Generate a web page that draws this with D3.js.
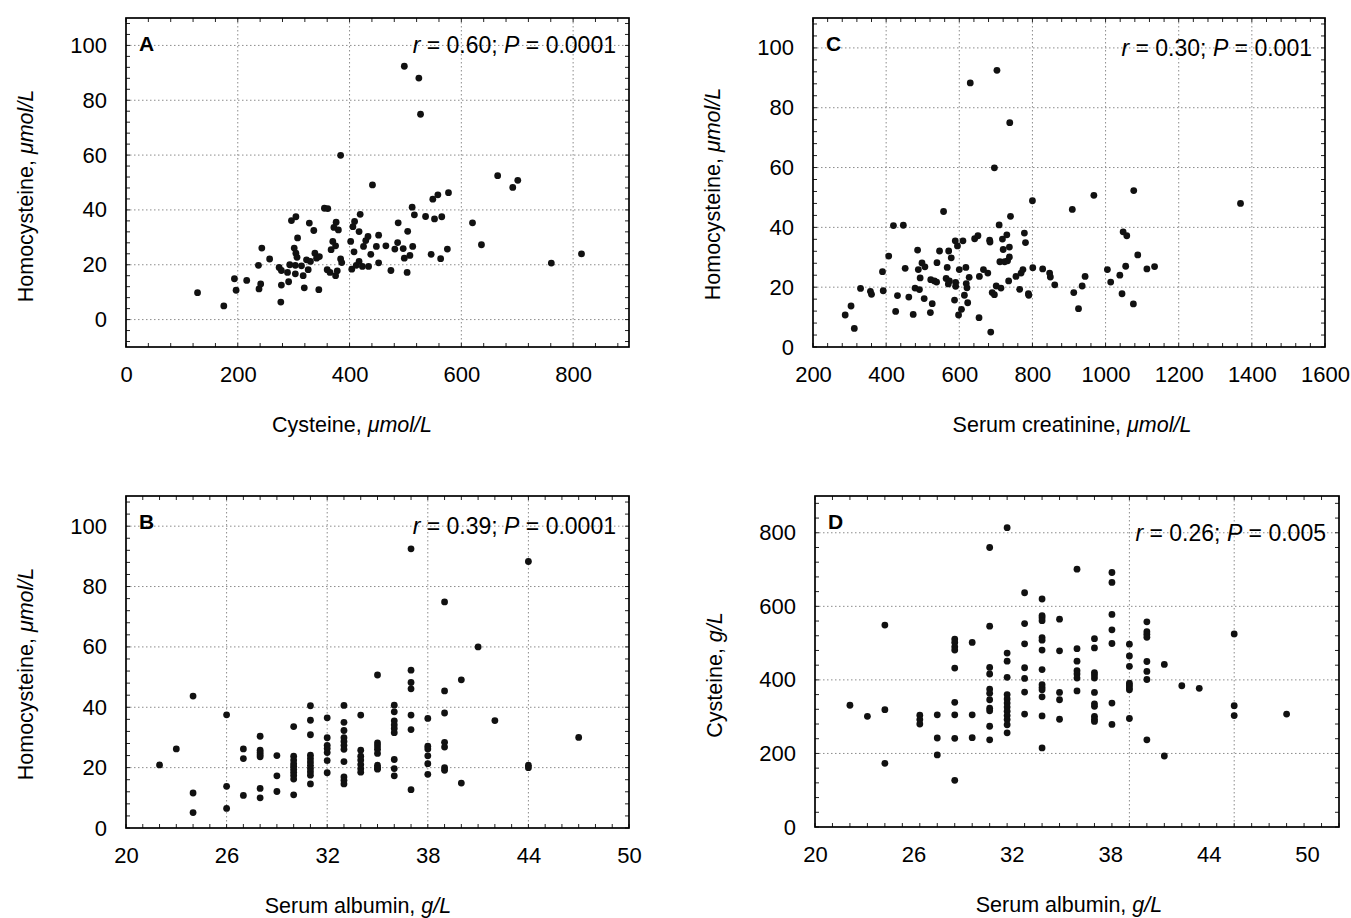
<!DOCTYPE html>
<html>
<head>
<meta charset="utf-8">
<script src="https://cdn.jsdelivr.net/npm/d3@7"></script>
<style>
  body { margin: 0; background: #fff; }
  svg { display: block; font-family: "Liberation Sans", Arial, Helvetica, sans-serif; }
</style>
</head>
<body>
<svg width="1351" height="918"></svg>
<script>
// [x, y] pairs
const cysVsHcy = [[128,9.8],[175,5.0],[194,14.9],[197,10.7],[216,14.3],[237,19.8],[238,11.2],[241,13.0],[243,26.1],[257,22.1],[274,19.0],[278,17.9],[277,6.4],[278,12.6],[291,13.8],[293,20.0],[289,17.2],[296,36.1],[304,37.5],[301,26.1],[307,29.8],[304,24.2],[303,19.8],[303,16.7],[306,22.7],[314,19.6],[317,16.0],[319,11.6],[323,21.8],[326,18.2],[328,35.2],[330,21.2],[336,32.5],[338,24.2],[341,22.4],[346,23.0],[345,10.9],[355,40.6],[361,40.5],[360,18.2],[365,17.2],[367,25.5],[370,28.5],[375,16.0],[376,35.5],[372,33.6],[380,32.7],[375,26.9],[378,17.8],[384,22.1],[386,20.8],[384,59.9],[402,28.5],[404,18.4],[406,33.9],[409,35.8],[408,24.7],[412,19.8],[417,21.2],[417,32.1],[419,38.4],[423,19.4],[425,26.7],[429,28.8],[433,30.3],[434,19.4],[438,23.8],[441,49.1],[448,26.7],[452,30.8],[452,20.7],[465,26.9],[474,17.9],[481,25.7],[487,35.3],[486,28.1],[496,25.9],[498,92.4],[498,22.4],[503,17.2],[504,32.2],[508,23.4],[512,41.0],[513,26.7],[516,38.2],[524,88.1],[527,74.9],[536,37.6],[546,23.8],[549,43.9],[552,36.7],[558,45.5],[563,22.2],[565,37.5],[575,25.7],[577,46.3],[620,35.3],[636,27.3],[665,52.5],[692,48.2],[701,50.8],[761,20.6],[815,24.0]];

const albVsHcy = [[22,20.9],[23,26.2],[24,43.7],[24,11.6],[24,5.1],[26,37.5],[26,13.8],[26,6.5],[27,26.2],[27,23.0],[27,10.8],[28,30.4],[28,25.8],[28,25.0],[28,24.3],[28,23.6],[28,13.1],[28,10.0],[29,24.0],[29,17.3],[29,12.1],[30,33.6],[30,23.8],[30,22.5],[30,21.3],[30,20.5],[30,19.5],[30,18.5],[30,17.4],[30,16.2],[30,11.0],[31,40.5],[31,35.7],[31,30.9],[31,24.1],[31,23.0],[31,21.9],[31,20.8],[31,19.7],[31,18.6],[31,17.5],[31,14.6],[32,36.5],[32,29.9],[32,27.4],[32,26.3],[32,25.0],[32,22.3],[32,18.3],[33,40.6],[33,35.0],[33,32.3],[33,29.9],[33,28.7],[33,27.4],[33,26.1],[33,22.0],[33,16.9],[33,15.8],[33,14.6],[34,37.4],[34,25.8],[34,23.8],[34,22.5],[34,21.0],[34,19.7],[34,18.5],[35,50.7],[35,28.2],[35,27.2],[35,26.1],[35,24.7],[35,20.8],[35,20.0],[35,19.5],[36,40.7],[36,38.5],[36,35.5],[36,34.2],[36,33.0],[36,31.6],[36,22.7],[36,19.7],[36,17.3],[37,92.5],[37,52.3],[37,48.2],[37,46.1],[37,37.4],[37,32.6],[37,12.7],[38,36.3],[38,27.1],[38,26.2],[38,23.9],[38,21.3],[38,17.8],[39,74.9],[39,45.4],[39,38.1],[39,28.4],[39,26.8],[39,20.0],[39,19.1],[40,49.1],[40,14.9],[41,60.0],[42,35.6],[44,88.3],[44,20.8],[44,20.0],[47,30.0]];

const creatVsHcy = [[288,10.7],[304,13.7],[313,6.2],[330,19.6],[357,18.6],[360,17.6],[390,25.2],[392,18.8],[407,30.4],[420,40.6],[426,11.9],[431,17.2],[447,40.7],[452,26.3],[462,16.7],[474,10.9],[479,19.7],[486,32.4],[488,25.9],[491,19.2],[493,23.1],[498,28.1],[504,16.2],[506,26.8],[521,11.5],[522,22.5],[526,14.5],[532,22.1],[538,21.7],[539,28.2],[546,32.1],[557,45.3],[564,22.9],[567,26.6],[570,21.1],[571,32.1],[573,22.1],[578,29.8],[587,15.7],[589,35.5],[590,21.6],[590,20.3],[595,33.8],[598,10.7],[600,25.9],[606,12.6],[610,35.5],[614,17.3],[618,26.6],[619,21.2],[621,19.8],[623,14.8],[627,23.3],[630,88.3],[642,36.2],[651,37.2],[654,9.8],[655,23.6],[666,25.9],[678,24.7],[683,35.7],[684,35.1],[686,5.0],[690,18.2],[696,17.5],[696,59.9],[701,20.4],[703,92.5],[709,40.8],[711,28.5],[714,19.7],[718,36.1],[720,32.6],[724,28.5],[730,37.5],[732,28.8],[735,22.1],[737,33.4],[737,30.1],[738,75.0],[740,43.7],[755,23.6],[765,19.3],[769,24.7],[774,25.9],[778,38.1],[781,34.9],[789,17.8],[790,17.3],[800,48.9],[801,26.5],[828,26.1],[847,24.7],[849,23.4],[861,20.8],[909,46.0],[913,18.2],[926,12.8],[936,20.4],[944,23.6],[968,50.7],[1005,25.9],[1014,21.7],[1039,24.0],[1045,17.8],[1048,38.5],[1058,37.2],[1055,27.0],[1077,52.3],[1076,14.4],[1088,30.8],[1113,26.1],[1134,26.9],[1369,48.0]];

const albVsCys = [[22,331],[23,301],[24,549],[24,319],[24,173],[26,304],[26,292],[26,280],[27,305],[27,242],[27,196],[28,511],[28,502],[28,490],[28,481],[28,432],[28,339],[28,305],[28,241],[28,127],[29,502],[29,305],[29,243],[30,760],[30,546],[30,434],[30,416],[30,375],[30,364],[30,346],[30,323],[30,316],[30,274],[30,237],[31,814],[31,473],[31,451],[31,407],[31,360],[31,348],[31,337],[31,326],[31,315],[31,303],[31,292],[31,278],[31,256],[32,637],[32,553],[32,498],[32,433],[32,404],[32,367],[32,307],[33,620],[33,575],[33,569],[33,561],[33,515],[33,508],[33,481],[33,428],[33,387],[33,379],[33,373],[33,354],[33,302],[33,215],[34,565],[34,479],[34,366],[34,346],[34,293],[35,701],[35,485],[35,451],[35,425],[35,416],[35,405],[35,370],[36,512],[36,487],[36,420],[36,413],[36,405],[36,366],[36,335],[36,328],[36,301],[36,293],[36,287],[37,692],[37,665],[37,578],[37,536],[37,499],[37,337],[37,279],[38,497],[38,465],[38,437],[38,391],[38,385],[38,378],[38,373],[38,295],[39,558],[39,531],[39,524],[39,516],[39,450],[39,423],[39,401],[39,237],[40,442],[40,193],[41,384],[42,377],[44,525],[44,330],[44,303],[47,307]];

// tick labels
const cysTicks = [0, 200, 400, 600, 800];
const creatTicks = [200, 400, 600, 800, 1000, 1200, 1400, 1600];
const albTicks = [20, 26, 32, 38, 44, 50];
const hcyTicks = [0, 20, 40, 60, 80, 100];
const cysYTicks = [0, 200, 400, 600, 800];

const panels = [
  { letter: "A", data: cysVsHcy, left: 126, right: 629, top: 18, bottom: 347,
    xDomain: [0, 900], yDomain: [-10, 110], xTicks: cysTicks, yTicks: hcyTicks,
    xGrid: [200, 400, 600, 800], yGrid: [0, 20, 40, 60, 80, 100], xMinor: 40, yMinor: 4,
    r: "0.60", p: "0.0001", statAt: 100,
    xTitle: ["Cysteine, ", "\u03bcmol/L"], xTitleX: 352,
    yTitle: ["Homocysteine, ", "\u03bcmol/L"], yTitleY: 196 },
  { letter: "C", data: creatVsHcy, left: 813, right: 1325, top: 18, bottom: 347,
    xDomain: [200, 1600], yDomain: [0, 110], xTicks: creatTicks, yTicks: hcyTicks,
    xGrid: [400, 600, 800, 1000, 1200, 1400], yGrid: [20, 40, 60, 80, 100], xMinor: 40, yMinor: 4,
    r: "0.30", p: "0.001", statAt: 100,
    xTitle: ["Serum creatinine, ", "\u03bcmol/L"], xTitleX: 1072,
    yTitle: ["Homocysteine, ", "\u03bcmol/L"], yTitleY: 194 },
  { letter: "B", data: albVsHcy, left: 126, right: 629, top: 496, bottom: 828,
    xDomain: [20, 50], yDomain: [0, 110], xTicks: albTicks, yTicks: hcyTicks,
    xGrid: [26, 32, 38, 44], yGrid: [20, 40, 60, 80, 100], xMinor: 1, yMinor: 4,
    r: "0.39", p: "0.0001", statAt: 100,
    xTitle: ["Serum albumin, ", "g/L"], xTitleX: 358,
    yTitle: ["Homocysteine, ", "\u03bcmol/L"], yTitleY: 674 },
  // in the original the albumin labels of D sit a little left of their ticks
  { letter: "D", data: albVsCys, left: 815, right: 1339, top: 496, bottom: 827,
    xDomain: [20, 50], yDomain: [0, 900], xTicks: albTicks, yTicks: cysYTicks,
    xGrid: [38, 44], yGrid: [200, 400, 600, 800], xMinor: 1, yMinor: 40,
    r: "0.26", p: "0.005", statAt: 800, labelStretch: 0.939,
    xTitle: ["Serum albumin, ", "g/L"], xTitleX: 1069,
    yTitle: ["Cysteine, ", "g/L"], yTitleY: 675 }
];

const svg = d3.select("svg");

function drawPanel(p) {
  const x = d3.scaleLinear().domain(p.xDomain).range([p.left, p.right]);
  const y = d3.scaleLinear().domain(p.yDomain).range([p.bottom, p.top]);
  const xLab = d3.scaleLinear().domain(p.xDomain)
    .range([p.left, p.left + (p.right - p.left) * (p.labelStretch || 1)]);
  const g = svg.append("g");

  // dotted grid
  g.selectAll(".gx").data(p.xGrid).enter().append("line")
      .attr("x1", d => x(d)).attr("x2", d => x(d))
      .attr("y1", p.top).attr("y2", p.bottom);
  g.selectAll(".gy").data(p.yGrid).enter().append("line")
      .attr("x1", p.left).attr("x2", p.right)
      .attr("y1", d => y(d)).attr("y2", d => y(d));
  g.selectAll("line")
      .attr("stroke", "#8c8c8c").attr("stroke-width", 1)
      .attr("stroke-dasharray", "1.5,2.5");

  // small inward ticks on all four sides
  const xm = d3.range(Math.ceil(p.xDomain[0] / p.xMinor) * p.xMinor, p.xDomain[1] + 1e-6, p.xMinor);
  const ym = d3.range(Math.ceil(p.yDomain[0] / p.yMinor) * p.yMinor, p.yDomain[1] + 1e-6, p.yMinor);
  const tk = g.append("g").attr("stroke", "#222").attr("stroke-width", 1);
  xm.forEach(v => {
    tk.append("line").attr("x1", x(v)).attr("x2", x(v)).attr("y1", p.bottom).attr("y2", p.bottom - 4);
    tk.append("line").attr("x1", x(v)).attr("x2", x(v)).attr("y1", p.top).attr("y2", p.top + 4);
  });
  ym.forEach(v => {
    tk.append("line").attr("x1", p.left).attr("x2", p.left + 4).attr("y1", y(v)).attr("y2", y(v));
    tk.append("line").attr("x1", p.right).attr("x2", p.right - 4).attr("y1", y(v)).attr("y2", y(v));
  });

  // tick labels
  const ax = g.append("g").attr("transform", `translate(0,${p.bottom})`)
      .call(d3.axisBottom(xLab).tickValues(p.xTicks).tickSize(0).tickPadding(19).tickFormat(d3.format("d")));
  const ay = g.append("g").attr("transform", `translate(${p.left},0)`)
      .call(d3.axisLeft(y).tickValues(p.yTicks).tickSize(0).tickPadding(19).tickFormat(d3.format("d")));
  [ax, ay].forEach(a => {
    a.select(".domain").remove();
    a.attr("font-family", null).attr("font-size", 22);
    a.selectAll("text").attr("fill", "#000");
  });

  // points
  g.selectAll("circle").data(p.data).enter().append("circle")
      .attr("cx", d => x(d[0])).attr("cy", d => y(d[1]))
      .attr("r", 3.4).attr("fill", "#111");

  // frame
  g.append("rect")
      .attr("x", p.left).attr("y", p.top)
      .attr("width", p.right - p.left).attr("height", p.bottom - p.top)
      .attr("fill", "none").attr("stroke", "#000").attr("stroke-width", 1.7);

  // panel letter
  g.append("text").attr("x", p.left + 13).attr("y", p.top + 33)
      .attr("font-size", 21).attr("font-weight", "bold").text(p.letter);

  // r and P
  const st = g.append("text").attr("x", p.right - 13).attr("y", y(p.statAt) + 8)
      .attr("font-size", 23).attr("text-anchor", "end");
  st.append("tspan").attr("font-style", "italic").text("r");
  st.append("tspan").text(" = " + p.r + "; ");
  st.append("tspan").attr("font-style", "italic").text("P");
  st.append("tspan").text(" = " + p.p);

  // axis titles
  const xt = g.append("text").attr("x", p.xTitleX).attr("y", p.bottom + 85)
      .attr("font-size", 21.5).attr("text-anchor", "middle");
  xt.append("tspan").text(p.xTitle[0]);
  xt.append("tspan").attr("font-style", "italic").text(p.xTitle[1]);

  const yt = g.append("text")
      .attr("transform", `translate(${p.left - 93},${p.yTitleY}) rotate(-90)`)
      .attr("font-size", 21.5).attr("text-anchor", "middle");
  yt.append("tspan").text(p.yTitle[0]);
  yt.append("tspan").attr("font-style", "italic").text(p.yTitle[1]);
}

panels.forEach(drawPanel);
</script>
</body>
</html>
